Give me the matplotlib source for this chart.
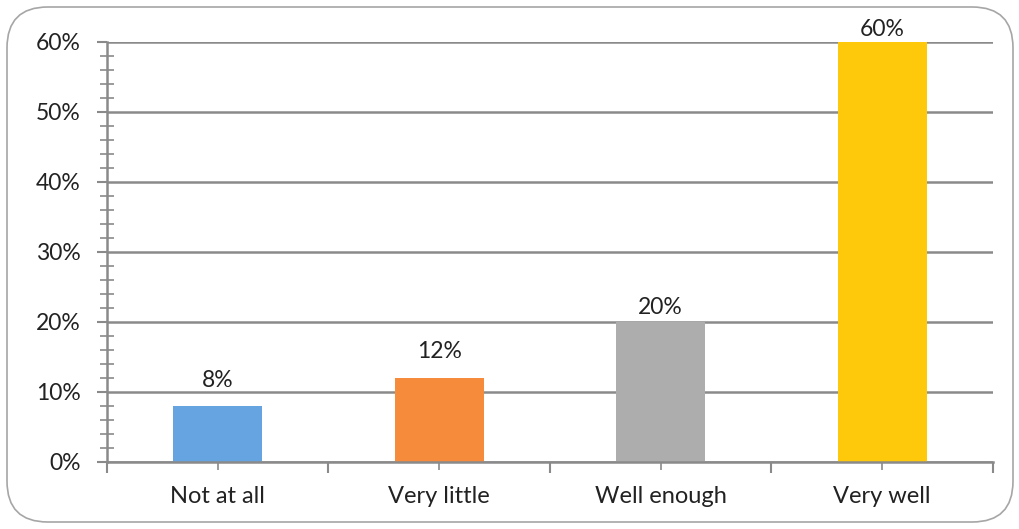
import matplotlib
matplotlib.use('Agg')
import matplotlib.pyplot as plt
from matplotlib.patches import FancyBboxPatch
from matplotlib.ticker import MultipleLocator, FixedLocator, PercentFormatter

categories = ['Not at all', 'Very little', 'Well enough', 'Very well']
values = [8, 12, 20, 60]
bar_colors = ['#65a4e0', '#f68b3c', '#adadad', '#ffc90b']
# gap between bar top and label baseline, in points (labels were nudged by hand)
label_gaps = [14, 14.5, 6, 4.5]

plt.rcParams['font.family'] = ['Lato', 'DejaVu Sans']

fig = plt.figure(figsize=(10.2, 5.29), dpi=100)
W, H = 1020, 529

# rounded outer frame, kept behind the axes
frame = FancyBboxPatch((7 / W, 7 / H), 1006 / W, 515 / H,
                       boxstyle='round,pad=0,rounding_size=0.04',
                       transform=fig.transFigure, facecolor='white',
                       edgecolor='#a6a6a6', linewidth=1.2, mutation_aspect=W / H, zorder=-10)
fig.patches.append(frame)

ax = fig.add_axes([107 / W, (H - 462) / H, (993 - 107) / W, (462 - 42) / H])
ax.set_zorder(5)
ax.set_facecolor('none')

x = list(range(len(categories)))
ax.bar(x, values, width=0.4, color=bar_colors, zorder=3)

for xi, v, g in zip(x, values, label_gaps):
    ax.annotate(f'{v}%', (xi, v), xytext=(0, g), textcoords='offset points',
                ha='center', va='baseline', fontsize=16.5, color='#222222', zorder=4)

ax.set_xlim(-0.5, len(categories) - 0.5)
ax.set_ylim(0, 60)

grid_c = '#8a8a8a'
ax.yaxis.set_major_locator(MultipleLocator(10))
ax.yaxis.set_minor_locator(MultipleLocator(2))
ax.yaxis.set_major_formatter(PercentFormatter(decimals=0))
ax.grid(axis='y', which='major', color=grid_c, linewidth=1.8, zorder=1)

# category boundaries as major ticks, centres as minor ticks
ax.xaxis.set_major_locator(FixedLocator([i - 0.5 for i in range(len(categories) + 1)]))
ax.xaxis.set_minor_locator(FixedLocator(x))
ax.set_xticklabels([])
ax.set_xticks(x, categories, minor=True)

ax.tick_params(axis='y', which='major', direction='out', length=7, width=1.5, color=grid_c,
               labelsize=16.5, labelcolor='#222222', pad=12)
ax.tick_params(axis='y', which='minor', direction='inout', length=10, width=1.2, color=grid_c)
ax.tick_params(axis='x', which='major', direction='out', length=8, width=1.5, color=grid_c)
ax.tick_params(axis='x', which='minor', direction='inout', length=12, width=1.2, color=grid_c,
               labelsize=17, labelcolor='#222222', pad=11)

for side in ['top', 'right']:
    ax.spines[side].set_visible(False)
for side in ['left', 'bottom']:
    ax.spines[side].set_color(grid_c)
    ax.spines[side].set_linewidth(1.8)
    ax.spines[side].set_zorder(5)
ax.set_axisbelow(False)

plt.savefig('out.png', dpi=100)
